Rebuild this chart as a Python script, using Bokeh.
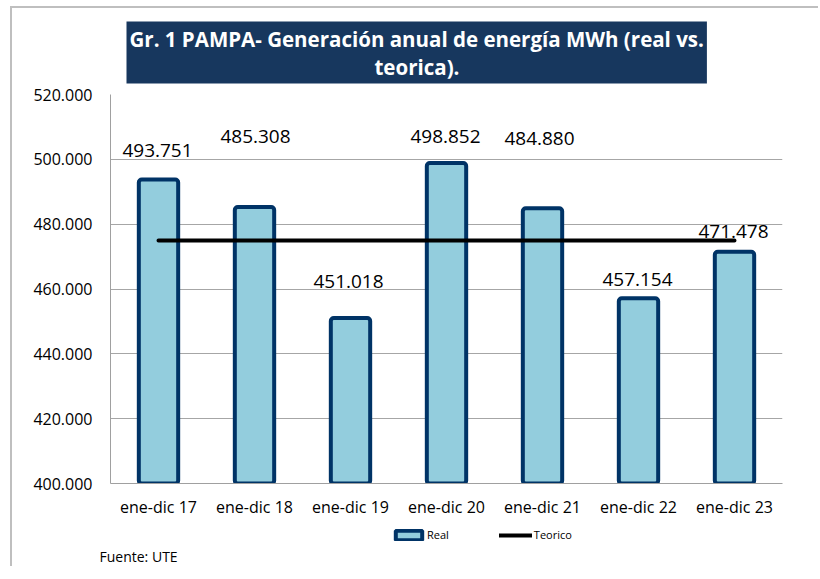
from bokeh.plotting import figure
from bokeh.layouts import column
from bokeh.models import (ColumnDataSource, Range1d, CustomJSTickFormatter, FixedTicker,
                          Legend, LegendItem, Title)
from bokeh.core.properties import value
from bokeh.embed import file_html
from bokeh.resources import INLINE

# ---- data ----
categories = ["ene-dic 17", "ene-dic 18", "ene-dic 19", "ene-dic 20",
              "ene-dic 21", "ene-dic 22", "ene-dic 23"]
real = [493751, 485308, 451018, 498852, 484880, 457154, 471478]
teorico = [475000, 475000, 475000, 475000, 475000, 475000, 475000]
real_labels = ["493.751", "485.308", "451.018", "498.852", "484.880", "457.154", "471.478"]
y_ticks = [400000, 420000, 440000, 460000, 480000, 500000, 520000]
title_line1 = "Gr. 1 PAMPA- Generación anual de energía MWh (real vs."
title_line2 = "teorica)."
source_note = "Fuente: UTE"

# label placement (style, in pixels)
label_dx = [-1, 1, -2, -1, -3, -1, -1]
label_dy = [-29, -70, -37, -27, -70, -19, -20]

FONT = "Open Sans"
NBSP = "\u00a0"
BAR_FILL = "#93CDDD"
BAR_LINE = "#003366"

src = ColumnDataSource(dict(cat=categories, real=real, teo=teorico, lab=real_labels,
                            dx=label_dx, dy=label_dy))

# ---------------- main chart ----------------
p = figure(x_range=categories, y_range=Range1d(400000, 520000),
           width=806, height=515,
           min_border_left=98, min_border_top=81, min_border_right=36, min_border_bottom=40,
           output_backend="svg", toolbar_location=None, title=None)
p.background_fill_color = "white"
p.border_fill_color = "white"
p.outline_line_color = None

bars = p.vbar(x="cat", top="real", bottom=400000, width=0.41, source=src,
              fill_color=BAR_FILL, line_color=BAR_LINE, line_width=4, border_radius=3)
line = p.line(x="cat", y="teo", source=src, line_color="black", line_width=4, line_cap="round")

p.text(x="cat", y="real", text="lab", source=src, x_offset="dx", y_offset="dy",
       text_font=value(FONT), text_font_size="19px", text_align="center",
       text_baseline="middle", text_color="#000000")

p.yaxis.ticker = FixedTicker(ticks=y_ticks)
p.yaxis.formatter = CustomJSTickFormatter(code="return (tick/1000).toFixed(3);")
for ax in (p.xaxis[0], p.yaxis[0]):
    ax.axis_line_color = "#A0A0A0"
    ax.major_tick_line_color = None
    ax.minor_tick_line_color = None
    ax.major_tick_out = 0
    ax.major_tick_in = 0
    ax.major_label_text_font = FONT
    ax.major_label_text_font_size = "16px"
    ax.major_label_text_color = "#000000"
p.yaxis.major_label_standoff = 18
p.xaxis.major_label_standoff = 12

p.xgrid.grid_line_color = None
p.ygrid.grid_line_color = "#A6A6A6"
p.ygrid.grid_line_width = 1

# title box (two centred lines)
pad = NBSP * 46
p.add_layout(Title(text=title_line1 + "\n" + pad + title_line2, align="left", offset=16,
                   standoff=22, text_font=FONT, text_font_size="20.5px", text_font_style="bold",
                   text_color="white", text_line_height=1.0,
                   background_fill_color="#17375E", background_fill_alpha=1,
                   border_line_color=None, padding=3), "above")

# ---------------- legend strip + source note ----------------
# (its frame is aligned with the main frame by the column layout)
q = figure(width=806, frame_height=20, x_range=p.x_range, y_range=Range1d(0, 1),
           min_border=0, output_backend="svg", toolbar_location=None, title=None)
q.axis.visible = False
q.grid.visible = False
q.outline_line_color = None
q.background_fill_color = "white"
q.border_fill_color = "white"

# hidden copies of the two series: only their legend swatches are shown
leg_bar = q.vbar(x="cat", top="real", bottom=400000, width=0.41, source=src,
                 fill_color=BAR_FILL, line_color=BAR_LINE, line_width=4, border_radius=3,
                 visible=False)
leg_line = q.line(x="cat", y="teo", source=src, line_color="black", line_width=4,
                  line_cap="round", visible=False)

legend = Legend(items=[LegendItem(label="Real", renderers=[leg_bar]),
                       LegendItem(label="Teorico", renderers=[leg_line])],
                orientation="horizontal", location=(282, 1),
                glyph_width=33, glyph_height=12, label_standoff=2, spacing=50,
                padding=0, margin=0, border_line_color=None, background_fill_alpha=0,
                inactive_fill_alpha=0,
                label_text_font=FONT, label_text_font_size="11px", label_text_color="#000000",
                label_height=12)
q.add_layout(legend)

q.add_layout(Title(text=source_note, align="left", offset=-11, standoff=2,
                   text_font=FONT, text_font_size="14px", text_font_style="normal",
                   text_color="#000000"), "below")

layout = column(p, q, spacing=0)
layout.styles = {"margin-top": "6px", "margin-left": "10px",
                 "border-top": "2px solid #BFBFBF", "border-left": "2px solid #BFBFBF"}

open("out.html", "w").write(file_html(layout, INLINE))
